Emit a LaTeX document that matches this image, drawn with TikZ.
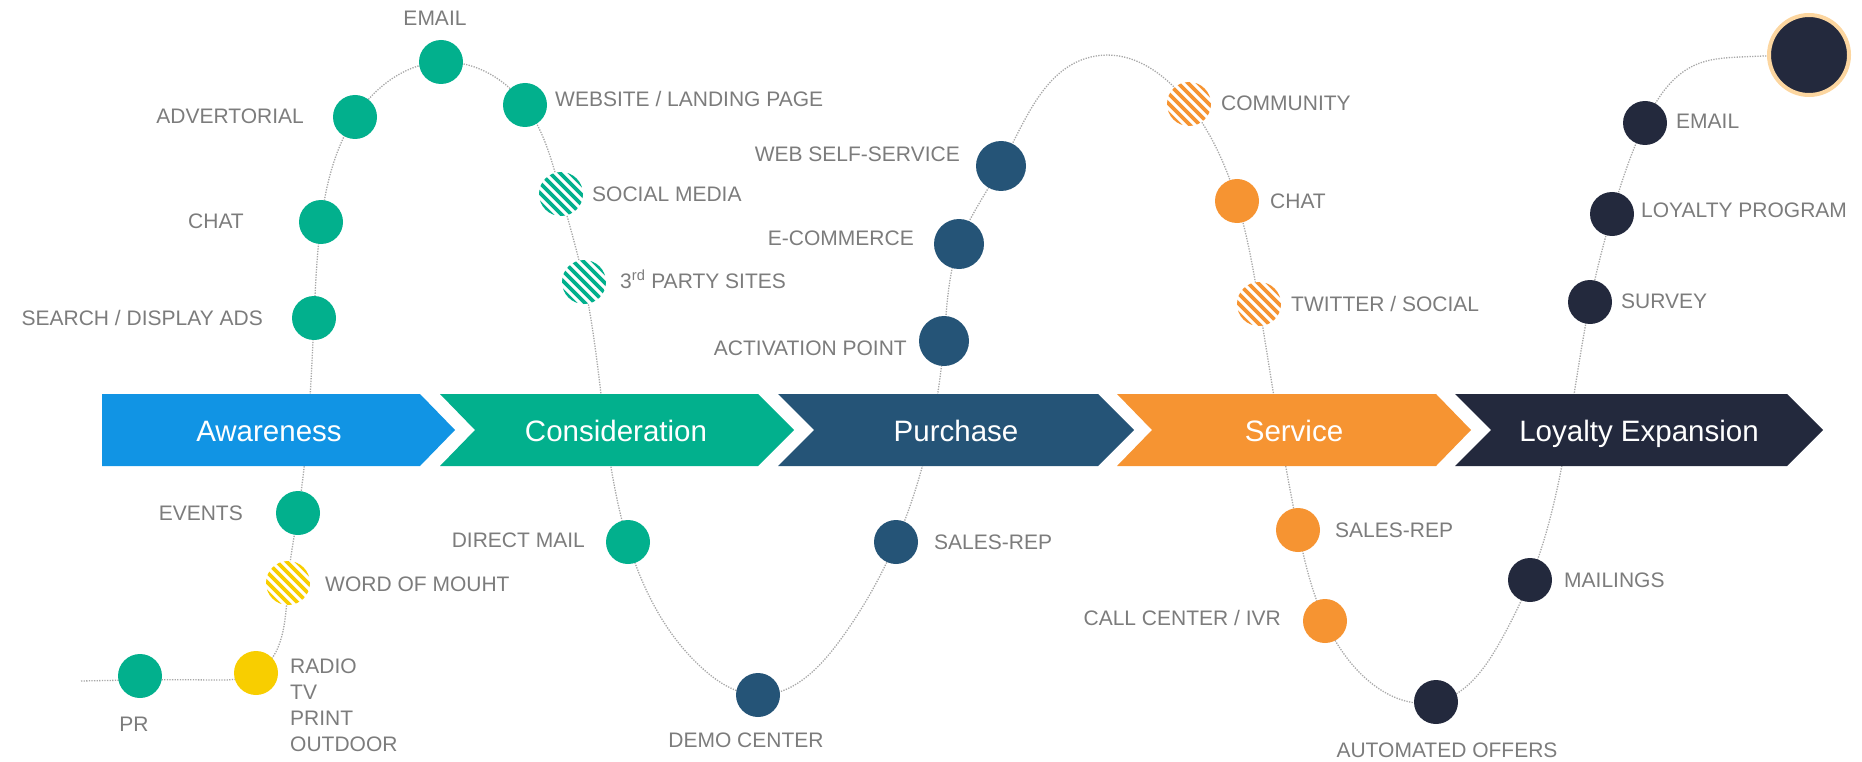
\documentclass[tikz,border=0pt]{standalone}
\usepackage{fontspec}
\setmainfont{Liberation Sans}
\usetikzlibrary{backgrounds,hobby}
\definecolor{cBlue}{HTML}{1194E4}
\definecolor{cGreen}{HTML}{02B08D}
\definecolor{cPurch}{HTML}{255477}
\definecolor{cOrange}{HTML}{F69432}
\definecolor{cNavy}{HTML}{23293D}
\definecolor{cYellow}{HTML}{F8CE00}
\definecolor{cGlow}{HTML}{FCD6A0}
\definecolor{labelgray}{HTML}{7C7C7C}
\definecolor{trackgray}{HTML}{A8A8A8}
\begin{document}
\begin{tikzpicture}[x=1pt,y=-1pt,
  dot/.style={circle, inner sep=0pt, minimum size=44pt, fill=#1},
  bigdot/.style={circle, inner sep=0pt, minimum size=50pt, fill=#1},
  hatch/.style={circle, inner sep=0pt, minimum size=44pt, fill=white,
    path picture={\foreach \k in {-6,...,6}{\draw[#1, line width=3.6pt]
      ([xshift=\k*10pt]path picture bounding box.center) ++(-40pt,40pt) -- ++(80pt,-80pt);}}},
  lbl/.style={text=labelgray, font=\fontsize{21}{26}\selectfont, inner sep=0pt},
  stage/.style={text=white, font=\fontsize{29.5}{34}\selectfont, inner sep=0pt, anchor=base},
  track/.style={draw=trackgray, line width=1.3pt, dash pattern=on 1.3pt off 1.3pt},
  banner/.style={fill=#1, draw=none}]
\useasboundingbox (0,0) rectangle (1862,762);

% circles
\node[dot=cGreen] (pr) at (140,676) {};
\node[dot=cYellow] (radio) at (256,673) {};
\node[hatch=cYellow] (wom) at (288,583) {};
\node[dot=cGreen] (events) at (298,513) {};
\node[dot=cGreen] (search) at (314,318) {};
\node[dot=cGreen] (chatA) at (321,222) {};
\node[dot=cGreen] (advert) at (355,117) {};
\node[dot=cGreen] (emailA) at (441,62) {};
\node[dot=cGreen] (web) at (525,105) {};
\node[hatch=cGreen] (social) at (561,194) {};
\node[hatch=cGreen] (third) at (584,282) {};
\node[dot=cGreen] (dmail) at (628,542) {};
\node[dot=cPurch] (demo) at (758,695) {};
\node[dot=cPurch] (salesP) at (896,542) {};
\node[bigdot=cPurch] (activ) at (944,341) {};
\node[bigdot=cPurch] (ecom) at (959,244) {};
\node[bigdot=cPurch] (webself) at (1001,166) {};
\node[hatch=cOrange] (community) at (1189,104) {};
\node[dot=cOrange] (chatS) at (1237,201) {};
\node[hatch=cOrange] (twitter) at (1259,304) {};
\node[dot=cOrange] (salesS) at (1298,530) {};
\node[dot=cOrange] (callc) at (1325,621) {};
\node[dot=cNavy] (offers) at (1436,702) {};
\node[dot=cNavy] (mailings) at (1530,580) {};
\node[dot=cNavy] (survey) at (1590,302) {};
\node[dot=cNavy] (loyal) at (1612,214) {};
\node[dot=cNavy] (emailL) at (1645,123) {};
\node[circle, inner sep=0pt, minimum size=80pt, fill=cNavy, draw=cGlow, line width=4pt] (goal) at (1809,55) {};

% free points of the track
\coordinate (t0) at (81,681);
\coordinate (t1) at (140,680);
\coordinate (t2) at (212,680);
\coordinate (v1) at (702,668);
\coordinate (v2) at (838,643);
\coordinate (k2) at (1096,56);
\coordinate (w1) at (1362,675);
\coordinate (w2) at (1500,642);
\coordinate (e1) at (1695,65);
\coordinate (e2) at (1740,57);

\begin{scope}[on background layer]
\draw[track, use Hobby shortcut] (t0) .. (t1) .. (t2) .. (radio.center) .. (wom.center) .. (events.center)
  .. (search.center) .. (chatA.center) .. (advert.center) .. (emailA.center) .. (web.center) .. (social.center)
  .. (third.center) .. (dmail.center) .. (v1) .. (demo.center) .. (v2) .. (salesP.center) .. (activ.center)
  .. (ecom.center) .. (webself.center) .. (k2) .. (community.center) .. (chatS.center) .. (twitter.center)
  .. (salesS.center) .. (callc.center) .. (w1) .. (offers.center) .. (w2) .. (mailings.center)
  .. (survey.center) .. (loyal.center) .. (emailL.center) .. (e1) .. (e2) .. (goal.center);
% stage banners
\fill[banner=cBlue] (102,394) -- (420,394) -- (455,430) -- (420,466) -- (102,466) -- cycle;
\fill[banner=cGreen] (440,394) -- (758,394) -- (794,430) -- (758,466) -- (440,466) -- (475,430) -- cycle;
\fill[banner=cPurch] (778,394) -- (1098,394) -- (1134,430) -- (1098,466) -- (778,466) -- (814,430) -- cycle;
\fill[banner=cOrange] (1117,394) -- (1436,394) -- (1471,430) -- (1436,466) -- (1117,466) -- (1152,430) -- cycle;
\fill[banner=cNavy] (1455,394) -- (1787,394) -- (1823,430) -- (1787,466) -- (1455,466) -- (1491,430) -- cycle;
\end{scope}

\node[stage] (sAw) at (269,441) {Awareness};
\node[stage] (sCo) at (616,441) {Consideration};
\node[stage] (sPu) at (956,441) {Purchase};
\node[stage] (sSe) at (1294,441) {Service};
\node[stage] (sLo) at (1639,441) {Loyalty Expansion};

% labels
\node[lbl, anchor=base] (lEmailA) at (435,25.5) {EMAIL};
\node[lbl, anchor=base east] (lAdvert) at (304,123.5) {ADVERTORIAL};
\node[lbl, anchor=base east] (lChatA) at (244,229) {CHAT};
\node[lbl, anchor=base east] (lSearch) at (263,325) {SEARCH / DISPLAY ADS};
\node[lbl, anchor=base east] (lEvents) at (243,520) {EVENTS};
\node[lbl, anchor=base west] (lWom) at (325,591) {WORD OF MOUHT};
\node[lbl, anchor=north west, align=left] (lRadio) at (290,658.5) {RADIO\\TV\\PRINT\\OUTDOOR};
\node[lbl, anchor=base] (lPr) at (134,731) {PR};
\node[lbl, anchor=base west] (lWeb) at (555,107) {WEBSITE / LANDING PAGE};
\node[lbl, anchor=base west] (lSocial) at (592,201) {SOCIAL MEDIA};
\node[lbl, anchor=base west] (lThird) at (620,288) {3\textsuperscript{rd} PARTY SITES};
\node[lbl, anchor=base east] (lDmail) at (585,547) {DIRECT MAIL};
\node[lbl, anchor=base] (lDemo) at (746,747) {DEMO CENTER};
\node[lbl, anchor=base west] (lSalesP) at (934,549) {SALES-REP};
\node[lbl, anchor=base east] (lActiv) at (907,355) {ACTIVATION POINT};
\node[lbl, anchor=base east] (lEcom) at (914,245) {E-COMMERCE};
\node[lbl, anchor=base east] (lWebself) at (960,162) {WEB SELF-SERVICE};
\node[lbl, anchor=base west] (lCommunity) at (1221,111) {COMMUNITY};
\node[lbl, anchor=base west] (lChatS) at (1270,208) {CHAT};
\node[lbl, anchor=base west] (lTwitter) at (1291,311) {TWITTER / SOCIAL};
\node[lbl, anchor=base west] (lSalesS) at (1335,537) {SALES-REP};
\node[lbl, anchor=base east] (lCallc) at (1281,625) {CALL CENTER / IVR};
\node[lbl, anchor=base] (lOffers) at (1447,757) {AUTOMATED OFFERS};
\node[lbl, anchor=base west] (lMailings) at (1564,587) {MAILINGS};
\node[lbl, anchor=base west] (lSurvey) at (1621,308) {SURVEY};
\node[lbl, anchor=base west] (lLoyal) at (1641,218) {LOYALTY PROGRAM};
\node[lbl, anchor=base west] (lEmailL) at (1676,129) {EMAIL};
\end{tikzpicture}
\end{document}
